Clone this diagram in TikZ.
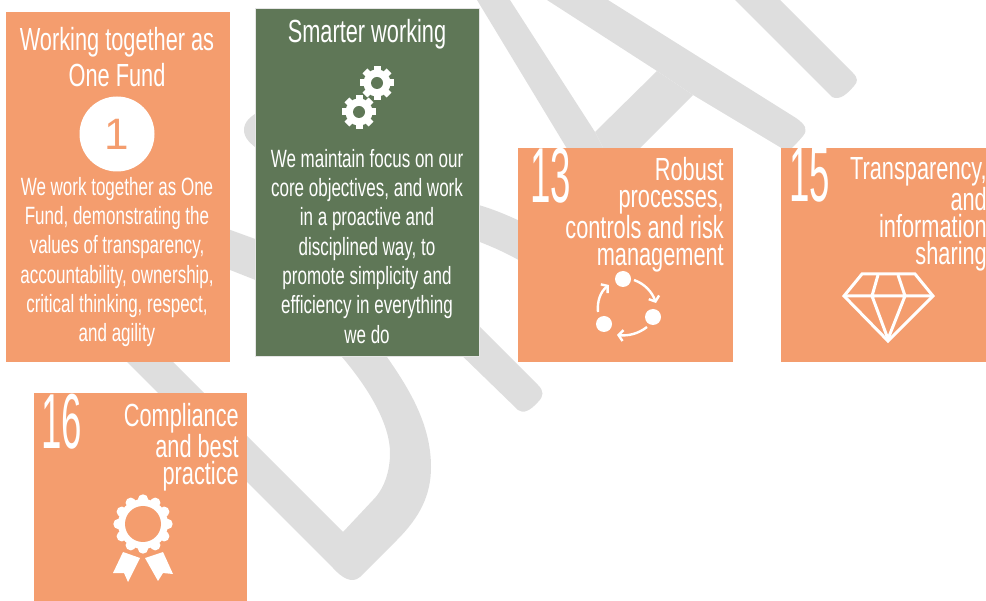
\documentclass[tikz,border=0pt]{standalone}
\usepackage{fontspec}
\usetikzlibrary{arrows.meta}
\newfontfamily\agency[FakeStretch=0.68]{Liberation Sans}
\newfontfamily\numerals[FakeStretch=0.47]{Liberation Sans}
\newfontfamily\plainsans{Liberation Sans}
\definecolor{cardorange}{HTML}{F49D6E}
\definecolor{cardgreen}{HTML}{5F7757}
\definecolor{wmgray}{HTML}{DEDEDE}
\tikzset{
  wm/.style={fill=wmgray,draw=none},
  orangecard/.style={fill=cardorange,draw=none,inner sep=0,anchor=north west},
  greencard/.style={fill=cardgreen,draw=black!10,line width=.6pt,inner sep=0,anchor=north west},
  titletext/.style={text=white,inner sep=0,anchor=north,align=center,font=\agency\fontsize{32}{36}\selectfont},
  bodytext/.style={text=white,inner sep=0,anchor=north,align=center,font=\agency\fontsize{25}{29.3}\selectfont},
  headtext/.style={text=white,inner sep=0,anchor=north east,align=right,font=\agency\fontsize{32}{27}\selectfont},
  numtext/.style={text=white,inner sep=0,anchor=north west,font=\numerals\fontsize{78}{78}\selectfont},
  iconline/.style={draw=white,line width=3pt,fill=none},
  cyclearrow/.style={draw=white,line width=2.4pt,-{Straight Barb[length=4.5pt,width=11pt]}},
}
\begin{document}
\begin{tikzpicture}[x=1pt,y=-1pt]
\useasboundingbox (0,0) rectangle (986,601);
\clip (0,0) rectangle (986,601);
% watermark
\fill[wm] (105,340) -- (333,568) .. controls (342,578) and (352,584) .. (360,577) -- (397,540) .. controls (420,517) and (431,495) .. (431,467) .. controls (431,425) and (410,390) .. (387,357) -- (375,340) -- (330,340) -- (342,357) .. controls (370,390) and (390,425) .. (390,453) .. controls (390,470) and (385,488) .. (373,500) -- (343,532) -- (151,340) -- cycle;
\fill[wm] (225,228) -- (258,240) -- (258,281) -- (225,268) -- cycle;
\fill[wm] (475,204) .. controls (490,208) and (505,214) .. (522,222) -- (522,262) .. controls (505,252) and (490,246) .. (475,240) -- cycle;
\fill[wm] (262,110) .. controls (250,116) and (244,122) .. (244,130) .. controls (244,138) and (250,144) .. (262,152) -- cycle;
\fill[wm] (475,322) -- (538,385) .. controls (544,391) and (544,396) .. (538,402) .. controls (530,411) and (523,414) .. (518,410) -- (450,344) -- cycle;
\fill[wm] (477,0) -- (510,0) -- (595,132) -- (605,152) -- (569,152) -- cycle;
\fill[wm] (595,132) -- (657,71) -- (693,95) -- (636,152) -- (605,152) -- cycle;
\fill[wm] (547,0) -- (608,0) -- (796,118) .. controls (806,125) and (808,130) .. (803,136) .. controls (798,142) and (794,146) .. (788,152) -- (693,95) -- (657,71) -- cycle;
\fill[wm] (735,0) -- (780,0) -- (853,73) .. controls (858,78) and (858,82) .. (854,86) .. controls (848,93) and (840,101) .. (832,97) -- cycle;
% cards
\node[orangecard,minimum width=223.5pt,minimum height=350pt] (card1) at (6,12) {};
\node[greencard,minimum width=224pt,minimum height=348pt] (card2) at (255,8) {};
\node[orangecard,minimum width=215pt,minimum height=214pt] (card3) at (518,148) {};
\node[orangecard,minimum width=215pt,minimum height=214pt] (card4) at (781,148) {};
\node[orangecard,minimum width=213pt,minimum height=215pt] (card5) at (34,393) {};
% card 1
\node[titletext] (title1) at (117,27) {Working together as\\One Fund};
\node[circle,fill=white,minimum size=75pt,inner sep=0] (badge) at (117,134) {};
\node[text=cardorange,inner sep=0,font=\plainsans\fontsize{44}{44}\selectfont] (badgenum) at (badge.center) {1};
\node[bodytext] (body1) at (117,177) {We work together as One\\Fund, demonstrating the\\values of transparency,\\accountability, ownership,\\critical thinking, respect,\\and agility};
% card 2
\node[titletext] (title2) at (367,19) {Smarter working};
\foreach \cx/\cy in {377/83,359/112}{
  \fill[white] (\cx,\cy) circle[radius=13.5];
  \foreach \a in {0,45,...,315}{
    \fill[white,rotate around={\a:(\cx,\cy)}] (\cx-3.5,\cy-17) rectangle (\cx+3.5,\cy);
  }
  \fill[cardgreen] (\cx,\cy) circle[radius=6];
}
\node[bodytext] (body2) at (367,149) {We maintain focus on our\\core objectives, and work\\in a proactive and\\disciplined way, to\\promote simplicity and\\efficiency in everything\\we do};
% card 3
\node[numtext] (num13) at (530,148) {13};
\node[headtext] (head3) at (724,157) {Robust\\processes,\\controls and risk\\management};
\fill[white] (623,279) circle[radius=8] (653,317) circle[radius=8] (604,324) circle[radius=8];
\draw[cyclearrow] (634,280) .. controls (645,284) and (652,292) .. (656,303);
\draw[cyclearrow] (647,327) .. controls (638,334) and (628,336) .. (617,335);
\draw[cyclearrow] (598,312) .. controls (597,302) and (600,292) .. (609,285);
% card 4
\node[numtext] (num15) at (789,148) {15};
\node[headtext] (head4) at (987,157) {Transparency,\\and\\information\\sharing};
\draw[iconline,miter limit=10] (862,274) -- (915,274) -- (933,296) -- (888,341) -- (844,296) -- cycle;
\draw[iconline] (844,296) -- (933,296) (878,275) -- (872,296) -- (888,339) -- (905,296) -- (898,275);
% card 5
\node[numtext] (num16) at (41,394) {16};
\node[headtext] (head5) at (239,403) {Compliance\\and best\\practice};
\foreach \a in {0,30,...,330}{
  \fill[white] ({143+24.5*cos(\a)},{524+24.5*sin(\a)}) circle[radius=5.2];
}
\fill[white] (143,524) circle[radius=25];
\fill[cardorange] (143,524) circle[radius=18];
\fill[white] (123,552) -- (140,558) -- (128,582) -- (124,573) -- (113,573) -- cycle;
\fill[white] (145,558) -- (163,552) -- (173,574) -- (163,573) -- (158,581) -- cycle;
\end{tikzpicture}
\end{document}
